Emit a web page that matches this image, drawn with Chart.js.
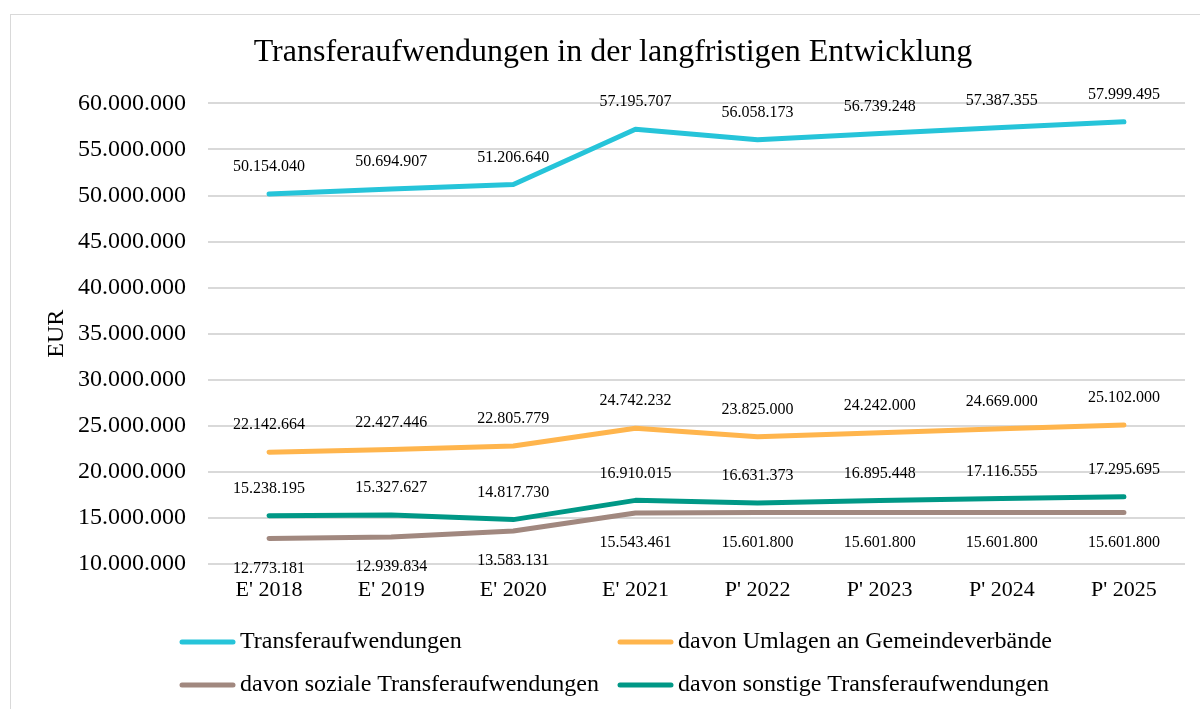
<!DOCTYPE html>
<html>
<head>
<meta charset="utf-8">
<script src="https://cdn.jsdelivr.net/npm/chart.js@4/dist/chart.umd.min.js"></script>
<style>
    html, body { margin: 0; padding: 0; background: #fff; overflow: hidden; }
    #box {
        position: absolute;
        left: 10px;
        top: 14px;
        width: 1204px;
        height: 720px;
        border: 1px solid #d9d9d9;
        background: #fff;
    }
    #box canvas { display: block; }
</style>
</head>
<body>
<div id="box"><canvas id="chart" width="1204" height="720"></canvas></div>
<script>
    'use strict';

    // Categories and series values
    var years = ["E' 2018", "E' 2019", "E' 2020", "E' 2021", "P' 2022", "P' 2023", "P' 2024", "P' 2025"];
    var transfer = [50154040, 50694907, 51206640, 57195707, 56058173, 56739248, 57387355, 57999495];
    var umlagen = [22142664, 22427446, 22805779, 24742232, 23825000, 24242000, 24669000, 25102000];
    var sozial = [12773181, 12939834, 13583131, 15543461, 15601800, 15601800, 15601800, 15601800];
    var sonstige = [15238195, 15327627, 14817730, 16910015, 16631373, 16895448, 17116555, 17295695];

    var yMin = 10000000;
    var yMax = 60000000;
    var yStep = 5000000;

    var serif = '"Liberation Serif", "Times New Roman", serif';

    function formatDe(v) {
        return String(Math.round(v)).replace(/\B(?=(\d{3})+(?!\d))/g, '.');
    }

    // Value labels next to each point (above, or below for 'below' datasets)
    var valueLabels = {
        id: 'valueLabels',
        afterDatasetsDraw: function(chart) {
            var ctx = chart.ctx;
            ctx.save();
            ctx.font = '16px ' + serif;
            ctx.fillStyle = '#000';
            ctx.textAlign = 'center';
            ctx.textBaseline = 'middle';
            chart.data.datasets.forEach(function(ds, i) {
                var meta = chart.getDatasetMeta(i);
                meta.data.forEach(function(pt, j) {
                    var dy = ds.labelBelow ? 30 : -27;
                    ctx.fillText(formatDe(ds.data[j]), pt.x, pt.y + dy);
                });
            });
            ctx.restore();
        }
    };

    // Two-column legend at the bottom
    var gridLegend = {
        id: 'gridLegend',
        afterDraw: function(chart) {
            var ctx = chart.ctx;
            var cols = [169, 607];
            var rows = [627, 670];
            ctx.save();
            ctx.font = '24px ' + serif;
            ctx.textBaseline = 'middle';
            ctx.textAlign = 'left';
            chart.data.datasets.forEach(function(ds, i) {
                var x = cols[i % 2];
                var y = rows[Math.floor(i / 2)];
                ctx.strokeStyle = ds.borderColor;
                ctx.lineWidth = 5;
                ctx.lineCap = 'round';
                ctx.beginPath();
                ctx.moveTo(x + 2, y);
                ctx.lineTo(x + 53, y);
                ctx.stroke();
                ctx.fillStyle = '#000';
                ctx.fillText(ds.label, x + 60, y);
            });
            ctx.restore();
        }
    };

    function makeSet(label, data, color, below) {
        return {
            label: label,
            data: data,
            borderColor: color,
            backgroundColor: color,
            borderWidth: 5,
            borderCapStyle: 'round',
            borderJoinStyle: 'round',
            pointRadius: 0,
            pointHoverRadius: 0,
            tension: 0,
            fill: false,
            labelBelow: below
        };
    }

    new Chart(document.getElementById('chart'), {
        type: 'line',
        data: {
            labels: years,
            datasets: [
                makeSet('Transferaufwendungen', transfer, '#26c4d9', false),
                makeSet('davon Umlagen an Gemeindeverbände', umlagen, '#ffb54d', false),
                makeSet('davon soziale Transferaufwendungen', sozial, '#a1887f', true),
                makeSet('davon sonstige Transferaufwendungen', sonstige, '#009886', false)
            ]
        },
        options: {
            responsive: false,
            animation: false,
            events: [],
            layout: {
                padding: { left: 0, right: 0, top: 0, bottom: 0 }
            },
            plugins: {
                legend: { display: false },
                tooltip: { enabled: false },
                title: {
                    display: true,
                    text: 'Transferaufwendungen in der langfristigen Entwicklung',
                    color: '#000',
                    font: { family: serif, size: 32, weight: 'normal' },
                    padding: { top: 18, bottom: 32 }
                }
            },
            scales: {
                x: {
                    offset: true,
                    grid: { display: false },
                    border: { display: false },
                    ticks: {
                        color: '#000',
                        font: { family: serif, size: 22 },
                        padding: 5,
                        maxRotation: 0
                    },
                    afterFit: function(scale) {
                        scale.height = 171;
                    }
                },
                y: {
                    min: yMin,
                    max: yMax,
                    grid: { color: '#d9d9d9', lineWidth: 2, drawTicks: false },
                    border: { display: false },
                    ticks: {
                        stepSize: yStep,
                        color: '#000',
                        font: { family: serif, size: 24 },
                        padding: 22,
                        callback: function(v) { return formatDe(v); }
                    },
                    title: {
                        display: true,
                        text: 'EUR',
                        color: '#000',
                        font: { family: serif, size: 24 },
                        padding: { top: 31, bottom: 0 }
                    },
                    afterFit: function(scale) {
                        scale.width = 197;
                    }
                },
                // empty right-hand spacer so the title stays centred on the whole box
                spacer: {
                    type: 'linear',
                    position: 'right',
                    grid: { display: false },
                    border: { display: false },
                    ticks: { display: false },
                    afterFit: function(scale) {
                        scale.width = 30;
                    }
                }
            }
        },
        plugins: [valueLabels, gridLegend]
    });
</script>
</body>
</html>
